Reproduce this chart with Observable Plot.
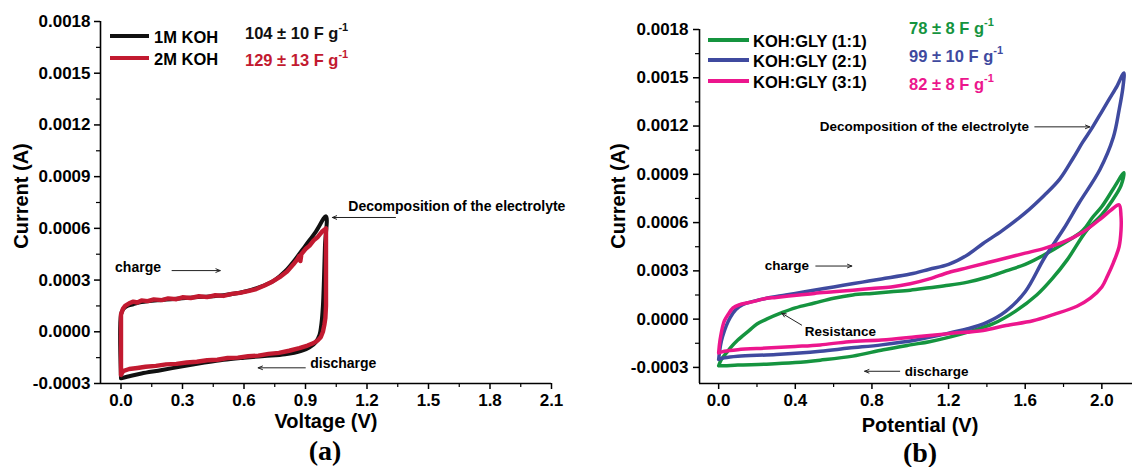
<!DOCTYPE html>
<html><head><meta charset="utf-8">
<script src="https://cdn.jsdelivr.net/npm/d3@7"></script>
<script src="https://cdn.jsdelivr.net/npm/@observablehq/plot@0.6"></script>
<style>
body{margin:0;background:#fff;}
#wrap{position:relative;width:1132px;height:467px;overflow:hidden;font-family:"Liberation Sans",Arial,sans-serif;font-weight:bold;color:#000;}
#wrap svg{position:absolute;top:0;overflow:visible;}
.t{position:absolute;white-space:nowrap;line-height:1;transform:translate(0,-50%);}
.c{position:absolute;white-space:nowrap;line-height:1;transform:translate(-50%,-50%);}
.lg{font-size:16.5px;}
.ln{position:absolute;height:4px;transform:translate(0,-50%);}
.ax{font-size:20px;}
.pl{font-family:"Liberation Serif","Times New Roman",serif;font-size:28px;font-weight:bold;}
sup{font-size:11px;vertical-align:0;position:relative;top:-8px;}
</style>
</head><body><div id="wrap"></div>
<script>
// ---------- Panel (a) data ----------
const koh1V = [0, 0, 0.01, 0.03, 0.06, 0.1, 0.2, 0.3, 0.4, 0.5, 0.6, 0.7, 0.75, 0.8, 0.85, 0.9, 0.95, 1.0, 0.995, 0.99, 0.985, 0.978, 0.968, 0.95, 0.92, 0.88, 0.8, 0.7, 0.6, 0.5, 0.4, 0.3, 0.2, 0.1, 0.05, 0];
const koh1I = [-0.00027, 0.0001, 0.00013, 0.00015, 0.00016, 0.000172, 0.000185, 0.000195, 0.000203, 0.000212, 0.000232, 0.00027, 0.0003, 0.00035, 0.00042, 0.0005, 0.00058, 0.00067, 0.0005, 0.0003, 0.00015, 0.00005, -0.00002, -0.00006, -0.00009, -0.00011, -0.00013, -0.00014, -0.00015, -0.000162, -0.00018, -0.0002, -0.000222, -0.000242, -0.000255, -0.00027];
const koh2V = [0, 0, 0.01, 0.02, 0.04, 0.06, 0.08, 0.1, 0.13, 0.16, 0.2, 0.23, 0.27, 0.3, 0.34, 0.38, 0.42, 0.46, 0.5, 0.54, 0.58, 0.62, 0.66, 0.7, 0.74, 0.78, 0.81, 0.84, 0.86, 0.87, 0.875, 0.88, 0.9, 0.92, 0.94, 0.96, 0.98, 1.0, 1.0, 1.0, 0.997, 0.992, 0.985, 0.975, 0.96, 0.94, 0.91, 0.87, 0.82, 0.77, 0.72, 0.67, 0.62, 0.57, 0.52, 0.47, 0.42, 0.37, 0.32, 0.27, 0.22, 0.17, 0.12, 0.08, 0.04, 0.01, 0];
const koh2I = [-0.00025, 0.0001, 0.000135, 0.00015, 0.000165, 0.000175, 0.00017, 0.000182, 0.000178, 0.000188, 0.000184, 0.000194, 0.000189, 0.0002, 0.000196, 0.000206, 0.000201, 0.000212, 0.000208, 0.00022, 0.000226, 0.000236, 0.000248, 0.000268, 0.000292, 0.000322, 0.00035, 0.00039, 0.00042, 0.00044, 0.00041, 0.00045, 0.00048, 0.0005, 0.00053, 0.00055, 0.00058, 0.0006, 0.0003, 0.00015, 0.00008, 0.00004, 0.0, -0.00003, -0.00005, -0.000065, -0.00008, -0.000095, -0.00011, -0.000122, -0.000128, -0.000138, -0.000142, -0.00015, -0.000152, -0.000162, -0.000165, -0.000174, -0.000178, -0.000186, -0.000189, -0.000198, -0.000203, -0.00021, -0.000216, -0.000228, -0.00025];

const aXTicks = [0, 0.3, 0.6, 0.9, 1.2, 1.5, 1.8, 2.1];
const aXMinor = [0.15, 0.45, 0.75, 1.05, 1.35, 1.65, 1.95];
const yTicks = [-0.0003, 0, 0.0003, 0.0006, 0.0009, 0.0012, 0.0015, 0.0018];
const yMinor = [-0.00015, 0.00015, 0.00045, 0.00075, 0.00105, 0.00135, 0.00165];

const aNoteText = ["Decomposition of the electrolyte", "charge", "discharge"];
const aNoteV = [1.109, -0.029, 0.923];
const aNoteI = [0.000727, 0.000372, -0.000186];
const aArrowV1 = [1.339, 0.249, 0.899];
const aArrowV2 = [1.031, 0.484, 0.669];
const aArrowI = [0.000663, 0.000355, -0.000209];

// ---------- Panel (b) data ----------
const gly11V = [0, 0.01, 0.02, 0.04, 0.06, 0.1, 0.16, 0.2, 0.25, 0.33, 0.4, 0.5, 0.6, 0.7, 0.8, 0.9, 1.0, 1.1, 1.2, 1.3, 1.4, 1.5, 1.6, 1.7, 1.8, 1.9, 1.95, 2.0, 2.06, 2.115, 2.1, 2.05, 2.0, 1.92, 1.82, 1.74, 1.66, 1.55, 1.43, 1.3, 1.21, 1.1, 1.0, 0.86, 0.7, 0.53, 0.4, 0.25, 0.1, 0.03, 0];
const gly11I = [-0.00029, -0.00026, -0.00024, -0.00021, -0.00018, -0.00013, -0.00007, -0.00003, 0.0, 0.00004, 0.00007, 0.0001, 0.00013, 0.00015, 0.00016, 0.00017, 0.00018, 0.000195, 0.00021, 0.00023, 0.00026, 0.0003, 0.00034, 0.0004, 0.00047, 0.00055, 0.00063, 0.0007, 0.00081, 0.00091, 0.00083, 0.00073, 0.00065, 0.00055, 0.00037, 0.00025, 0.00015, 0.00005, -0.00003, -0.00008, -0.00011, -0.00014, -0.00016, -0.00019, -0.00023, -0.000255, -0.00027, -0.00028, -0.000285, -0.00029, -0.00029];
const gly21V = [0, 0.005, 0.01, 0.02, 0.04, 0.06, 0.09, 0.125, 0.18, 0.25, 0.35, 0.45, 0.55, 0.65, 0.75, 0.85, 1.0, 1.1, 1.2, 1.3, 1.38, 1.48, 1.6, 1.7, 1.78, 1.85, 1.9, 1.95, 2.0, 2.04, 2.08, 2.115, 2.11, 2.09, 2.06, 1.99, 1.88, 1.8, 1.7, 1.6, 1.5, 1.4, 1.3, 1.15, 1.03, 0.85, 0.68, 0.53, 0.3, 0.1, 0.03, 0];
const gly21I = [-0.00025, -0.0002, -0.00016, -0.00011, -0.00004, 0.00001, 0.00006, 0.00009, 0.00011, 0.00013, 0.00015, 0.00017, 0.00019, 0.00021, 0.00023, 0.00025, 0.00028, 0.00031, 0.00034, 0.0004, 0.00047, 0.00055, 0.00066, 0.00077, 0.00087, 0.001, 0.0011, 0.00119, 0.00129, 0.00137, 0.00145, 0.00153, 0.00144, 0.0013, 0.00113, 0.00093, 0.00072, 0.00056, 0.00038, 0.00017, 0.00005, -0.00002, -0.00006, -0.0001, -0.00013, -0.00016, -0.00018, -0.0002, -0.00022, -0.00023, -0.00024, -0.00025];
const gly31V = [0, 0.003, 0.006, 0.01, 0.02, 0.03, 0.05, 0.075, 0.11, 0.146, 0.2, 0.25, 0.3, 0.42, 0.5, 0.6, 0.7, 0.8, 0.9, 1.0, 1.1, 1.2, 1.3, 1.4, 1.5, 1.6, 1.7, 1.8, 1.9, 2.0, 2.05, 2.09, 2.1, 2.1, 2.09, 2.06, 2.03, 2.0, 1.94, 1.87, 1.75, 1.64, 1.5, 1.38, 1.2, 1.03, 0.85, 0.68, 0.53, 0.4, 0.25, 0.1, 0.03, 0];
const gly31I = [-0.00021, -0.00017, -0.00014, -0.00011, -0.00005, -0.00001, 0.00003, 0.00007, 0.00009, 0.0001, 0.000115, 0.00013, 0.000135, 0.00015, 0.00016, 0.00017, 0.00018, 0.00019, 0.0002, 0.00022, 0.00025, 0.00029, 0.00032, 0.00035, 0.00038, 0.00041, 0.00044, 0.00048, 0.00054, 0.00063, 0.00068, 0.00071, 0.00064, 0.00055, 0.00045, 0.00035, 0.00027, 0.0002, 0.00013, 0.00008, 0.00003, -0.00001, -0.00004, -0.00007, -0.00009, -0.00011, -0.00013, -0.00014, -0.00016, -0.00017, -0.00018, -0.00019, -0.0002, -0.00021];

const bXTicks = [0, 0.4, 0.8, 1.2, 1.6, 2.0];
const bXMinor = [0.2, 0.6, 1.0, 1.4, 1.8];

const bNoteText = ["Decomposition of the electrolyte", "charge", "Resistance", "discharge"];
const bNoteV = [0.527, 0.240, 0.449, 0.971];
const bNoteI = [0.001195, 0.00033, -0.000081, -0.000324];
const bArrowV1 = [1.650, 0.507, 0.433, 0.945];
const bArrowI1 = [0.001195, 0.00033, -0.000037, -0.000324];
const bArrowV2 = [1.937, 0.695, 0.329, 0.762];
const bArrowI2 = [0.001195, 0.00033, 0.000037, -0.000324];

const colors = {k1: "#111111", k2: "#c21a30", g11: "#15943f", g21: "#3f4a9f", g31: "#ec168d"};

const rows = (V, I) => V.map((v, i) => ({V: v, I: I[i]}));
const fmt4 = d => d.toFixed(4);
const fmt1 = d => d.toFixed(1);

function panel(o) {
  const marks = [
    Plot.ruleX([o.xDomain[0]], {stroke: "#000", strokeWidth: 1.6}),
    Plot.ruleY([o.yDomain[0]], {stroke: "#000", strokeWidth: 1.6}),
    Plot.axisY(yTicks, {tickSize: 6, tickPadding: o.yPad, tickFormat: fmt4, strokeWidth: 1.5, label: null}),
    Plot.axisY(yMinor, {tickSize: 4, text: null, strokeWidth: 1.2, label: null}),
    Plot.axisX(o.xTicks, {tickSize: 6, tickPadding: 4, tickFormat: fmt1, strokeWidth: 1.5, label: null}),
    Plot.axisX(o.xMinor, {tickSize: 4, text: null, strokeWidth: 1.2, label: null}),
    ...o.series.map(s => Plot.line(rows(s.V, s.I), {x: "V", y: "I", stroke: s.color, strokeWidth: s.w, curve: s.curve})),
    Plot.text(o.noteText.map((t, i) => ({t, V: o.noteV[i], I: o.noteI[i]})), {x: "V", y: "I", text: "t", textAnchor: "start", fontSize: o.noteSize, fontWeight: "bold", fill: "#000"}),
    Plot.arrow(o.arrows, {x1: "x1", y1: "y1", x2: "x2", y2: "y2", stroke: "#222", strokeWidth: 1, headLength: 7, headAngle: 45})
  ];
  const svg = Plot.plot({
    width: o.width, height: 467,
    marginLeft: o.ml, marginRight: o.mr, marginTop: o.mt, marginBottom: 84,
    x: {domain: o.xDomain}, y: {domain: o.yDomain},
    style: {fontFamily: "'Liberation Sans', Arial, sans-serif", fontSize: "17px", fontWeight: "bold", color: "#000", background: "transparent", overflow: "visible"},
    marks
  });
  svg.style.left = o.left + "px";
  return svg;
}

const wrap = document.getElementById("wrap");
wrap.appendChild(panel({
  left: 0, width: 560, ml: 100, mr: 9, mt: 21,
  xDomain: [-0.1, 2.1], yDomain: [-0.0003, 0.0018], yPad: 4, noteSize: 14,
  xTicks: aXTicks, xMinor: aXMinor,
  series: [
    {V: koh1V, I: koh1I, color: colors.k1, w: 4, curve: "catmull-rom"},
    {V: koh2V, I: koh2I, color: colors.k2, w: 4.4, curve: "linear"}
  ],
  noteText: aNoteText, noteV: aNoteV, noteI: aNoteI,
  arrows: aArrowV1.map((v, i) => ({x1: v, y1: aArrowI[i], x2: aArrowV2[i], y2: aArrowI[i]}))
}));
wrap.appendChild(panel({
  left: 560, width: 572, ml: 139, mr: 0, mt: 29,
  xDomain: [-0.1, 2.16], yDomain: [-0.0004, 0.0018], yPad: 5, noteSize: 13.5,
  xTicks: bXTicks, xMinor: bXMinor,
  series: [
    {V: gly11V, I: gly11I, color: colors.g11, w: 3.5, curve: "catmull-rom"},
    {V: gly21V, I: gly21I, color: colors.g21, w: 3.5, curve: "catmull-rom"},
    {V: gly31V, I: gly31I, color: colors.g31, w: 3.5, curve: "catmull-rom"}
  ],
  noteText: bNoteText, noteV: bNoteV, noteI: bNoteI,
  arrows: bArrowV1.map((v, i) => ({x1: v, y1: bArrowI1[i], x2: bArrowV2[i], y2: bArrowI2[i]}))
}));

// ---------- legends and labels ----------
const legendA = [["1M KOH", colors.k1, 36], ["2M KOH", colors.k2, 58]];
const capA = [["104 ± 10 F g", colors.k1, 33], ["129 ± 13 F g", colors.k2, 60]];
const legendB = [["KOH:GLY (1:1)", colors.g11, 40], ["KOH:GLY (2:1)", colors.g21, 60], ["KOH:GLY (3:1)", colors.g31, 81]];
const capB = [["78 ± 8 F g", colors.g11, 28], ["99 ± 10 F g", colors.g21, 56], ["82 ± 8 F g", colors.g31, 84]];

let html = "";
for (const [t, c, y] of legendA) {
  html += `<div class="ln" style="left:110px;width:39px;top:${y}px;background:${c}"></div>`;
  html += `<div class="t lg" style="left:154px;top:${y + 1}px">${t}</div>`;
}
for (const [t, c, y] of capA) html += `<div class="t lg" style="left:245px;top:${y}px;color:${c}">${t}<sup>-1</sup></div>`;
for (const [t, c, y] of legendB) {
  html += `<div class="ln" style="left:708px;width:41px;top:${y}px;background:${c}"></div>`;
  html += `<div class="t lg" style="left:753px;top:${y + 1}px">${t}</div>`;
}
for (const [t, c, y] of capB) html += `<div class="t lg" style="left:909px;top:${y}px;color:${c}">${t}<sup>-1</sup></div>`;
html += `<div class="c ax" style="left:21px;top:196px;transform:translate(-50%,-50%) rotate(-90deg)">Current (A)</div>`;
html += `<div class="c ax" style="left:618px;top:196px;transform:translate(-50%,-50%) rotate(-90deg)">Current (A)</div>`;
html += `<div class="c ax" style="left:326px;top:421px">Voltage (V)</div>`;
html += `<div class="c ax" style="left:920px;top:425px">Potential (V)</div>`;
html += `<div class="c pl" style="left:325px;top:451px">(a)</div>`;
html += `<div class="c pl" style="left:920px;top:453px">(b)</div>`;
wrap.insertAdjacentHTML("beforeend", html);
</script>
</body></html>
